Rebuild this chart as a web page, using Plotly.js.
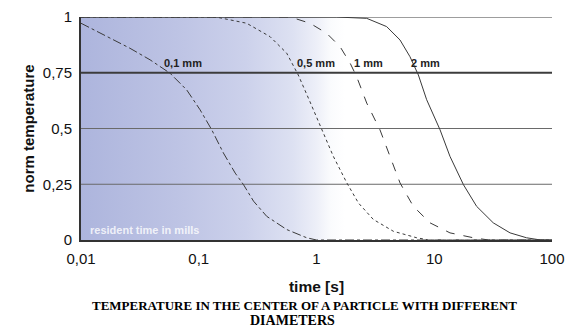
<!DOCTYPE html>
<html>
<head>
<meta charset="utf-8">
<script src="https://cdn.plot.ly/plotly-3.0.1.min.js"></script>
<style>html,body{margin:0;padding:0;background:#fff;}#chart{width:573px;height:329px;}</style>
</head>
<body>
<div id="chart"></div>
<script>
// Data
const seriesNames = ["0,1 mm", "0,5 mm", "1 mm", "2 mm"];
const t01 = [0.01, 0.0145, 0.026, 0.0386, 0.057, 0.079, 0.1026, 0.129, 0.162, 0.204, 0.24, 0.292, 0.378, 0.558, 0.826, 1.0, 100];
const y01 = [0.972, 0.927, 0.86, 0.808, 0.748, 0.673, 0.584, 0.494, 0.39, 0.30, 0.248, 0.174, 0.106, 0.047, 0.01, 0.0, 0.0];
const t05 = [0.01, 0.14, 0.255, 0.403, 0.558, 0.70, 0.88, 1.107, 1.39, 1.81, 2.27, 3.04, 4.5, 7.1, 9.0, 100];
const y05 = [1.0, 1.0, 0.972, 0.912, 0.838, 0.74, 0.62, 0.494, 0.375, 0.256, 0.166, 0.092, 0.039, 0.01, 0.0, 0.0];
const t1 = [0.01, 0.6, 0.88, 1.22, 1.585, 1.93, 2.19, 2.67, 3.46, 4.2, 5.12, 6.64, 9.2, 13.6, 21.5, 29, 100];
const y1 = [1.0, 1.0, 0.972, 0.927, 0.867, 0.793, 0.733, 0.614, 0.494, 0.375, 0.256, 0.151, 0.077, 0.032, 0.01, 0.0, 0.0];
const t2 = [0.01, 1.48, 2.67, 3.94, 5.12, 6.22, 7.33, 8.62, 11.2, 13.6, 17.7, 22.9, 31.7, 44, 60.8, 80, 100];
const y2 = [1.0, 1.0, 0.994, 0.957, 0.897, 0.822, 0.74, 0.629, 0.494, 0.375, 0.248, 0.151, 0.077, 0.032, 0.01, 0.0, 0.0];
const xTickVals = [0.01, 0.1, 1, 10, 100];
const xTickText = ["0,01", "0,1", "1", "10", "100"];
const yTickVals = [0, 0.25, 0.5, 0.75, 1];
const yTickText = ["0", "0,25", "0,5", "0,75", "1"];
const labelX = [0.0735, 0.99, 2.79, 8.5];
const labelY = [0.794, 0.794, 0.794, 0.794];

const dashes = ["dashdot", "dot", "dash", "solid"];
const xs = [t01, t05, t1, t2];
const ys = [y01, y05, y1, y2];

const traces = xs.map((x, i) => ({
  x: x, y: ys[i], type: "scatter", mode: "lines", name: seriesNames[i],
  line: {color: "#3a3a3a", width: 1, dash: dashes[i]},
  hoverinfo: "skip", cliponaxis: false
}));

const gradSvg = '<svg xmlns="http://www.w3.org/2000/svg" width="471" height="224" preserveAspectRatio="none">' +
  '<defs><linearGradient id="g" x1="0" y1="0" x2="1" y2="0">' +
  '<stop offset="0" stop-color="#adb5dd"/>' +
  '<stop offset="0.2" stop-color="#bdc3e4"/>' +
  '<stop offset="0.35" stop-color="#ccd1eb"/>' +
  '<stop offset="0.45" stop-color="#dde1f2"/>' +
  '<stop offset="0.5" stop-color="#edeff8"/>' +
  '<stop offset="0.53" stop-color="#fafbfd"/>' +
  '<stop offset="0.56" stop-color="#ffffff"/>' +
  '<stop offset="1" stop-color="#ffffff"/>' +
  '</linearGradient></defs><rect width="471" height="224" fill="url(#g)"/></svg>';
const gradUri = "data:image/svg+xml;charset=utf-8," + encodeURIComponent(gradSvg);

const shapes = yTickVals.filter(v => v > 0).map(v => ({
  type: "line", xref: "paper", x0: 0, x1: 1, yref: "y", y0: v, y1: v,
  line: {color: v === 0.75 ? "#3c3c3c" : (v === 1 ? "#3c3c3c" : "#6a6a6a"), width: v === 0.75 ? 2 : 1},
  layer: "below"
}));

const FONT = "Liberation Sans, Arial, sans-serif";
const annotations = seriesNames.map((s, i) => ({
  x: Math.log10(labelX[i]), y: labelY[i], xref: "x", yref: "y", text: "<b>" + s + "</b>",
  showarrow: false, font: {family: FONT, size: 11, color: "#222"}
}));
annotations.push({
  x: -2, y: 0.043, xref: "x", yref: "y", xanchor: "left", xshift: 7,
  text: "<b>resident time in mills</b>", showarrow: false,
  font: {family: FONT, size: 11, color: "rgba(255,255,255,0.8)"}
});
annotations.push({
  x: 304, y: 306, xref: "paper", yref: "paper", showarrow: false,
  text: "<b>TEMPERATURE IN THE CENTER OF A PARTICLE WITH DIFFERENT</b>",
  font: {family: "Liberation Serif, Times New Roman, serif", size: 13, color: "#000"}
});
annotations.push({
  x: 292, y: 321, xref: "paper", yref: "paper", showarrow: false,
  text: "<b>DIAMETERS</b>",
  font: {family: "Liberation Serif, Times New Roman, serif", size: 14, color: "#000"}
});
// convert pixel positions of the title lines to paper coords
const L = 81, R = 21, T = 17, B = 88.5, W = 573, H = 329;
annotations.slice(-2).forEach(a => {
  a.x = (a.x - L) / (W - L - R);
  a.y = (H - B - a.y) / (H - T - B);
  a.xanchor = "center"; a.yanchor = "middle";
});

const layout = {
  width: W, height: H,
  margin: {l: L, r: R, t: T, b: B},
  paper_bgcolor: "#fff", plot_bgcolor: "rgba(0,0,0,0)",
  showlegend: false,
  images: [{source: gradUri, xref: "paper", yref: "paper", x: 0, y: 1, sizex: 1, sizey: 1,
    sizing: "stretch", xanchor: "left", yanchor: "top", layer: "below"}],
  xaxis: {
    type: "log", range: [-2, 2], tickvals: xTickVals, ticktext: xTickText,
    showgrid: false, zeroline: false, showline: true, linecolor: "#333", linewidth: 2,
    ticks: "", ticklabelstandoff: 4, tickfont: {family: FONT, size: 15, color: "#111"},
    title: {text: "<b>time [s]</b>", standoff: 15, font: {family: FONT, size: 15.5, color: "#111"}}
  },
  yaxis: {
    range: [0, 1], tickvals: yTickVals, ticktext: yTickText,
    showgrid: false, zeroline: false, showline: true, linecolor: "#333", linewidth: 2,
    ticks: "", ticklabelstandoff: 4, tickfont: {family: FONT, size: 15, color: "#111"},
    title: {text: "<b>norm temperature</b>", standoff: 5, font: {family: FONT, size: 15, color: "#111"}}
  },
  shapes: shapes,
  annotations: annotations
};

Plotly.newPlot("chart", traces, layout, {staticPlot: true, displayModeBar: false});
</script>
</body>
</html>
